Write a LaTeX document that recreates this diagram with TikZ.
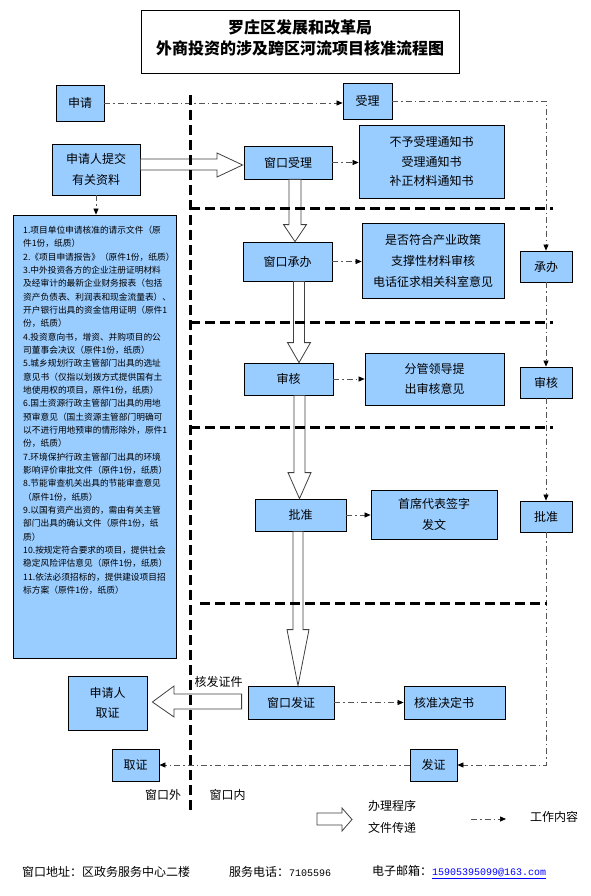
\documentclass[tikz,border=0pt]{standalone}
\usepackage{fontspec}
\setmainfont{Noto Sans CJK SC}
\newfontfamily\monof{Liberation Mono}
\usetikzlibrary{arrows.meta,calc}
\definecolor{boxblue}{RGB}{153,204,255}
\definecolor{ddgray}{RGB}{85,85,85}
\newcommand\vhol[6]{%
 \draw[hol] let \p1=(#2.south), \p2=(#3.north) in
  (#1pt-#4pt,\y1) -- (#1pt-#4pt,\y2+#6pt) -- (#1pt-#5pt,\y2+#6pt) -- (#1pt,\y2) -- (#1pt+#5pt,\y2+#6pt) -- (#1pt+#4pt,\y2+#6pt) -- (#1pt+#4pt,\y1) -- cycle;}
\begin{document}
\begin{tikzpicture}[x=1pt,y=-1pt,
  box/.style={draw=black, fill=boxblue, line width=0.8pt, inner sep=0pt, font=\fontsize{12pt}{14pt}\selectfont, align=center},
  dd/.style={draw=ddgray, line width=0.7pt, dash pattern=on 6pt off 3pt on 1.5pt off 3pt, -{Triangle[length=6pt,width=5pt,color=black]}},
  thickdash/.style={line width=3pt, dash pattern=on 10pt off 5pt},
  hol/.style={draw=black!75, fill=white, line width=0.8pt, line join=miter},
  lab/.style={inner sep=0pt, font=\fontsize{12pt}{14pt}\selectfont}
]
\useasboundingbox (0,0) rectangle (590,896);
\fill[white] (0,0) rectangle (590,896);

% title
\node[draw, line width=0.8pt, minimum width=318pt, minimum height=63pt, inner sep=0pt] (title) at (300,41.5) {};
\node[inner sep=0pt, align=center, font=\fontsize{16pt}{21pt}\selectfont\bfseries] (titletext) at (300,37.5) {罗庄区发展和改革局\\外商投资的涉及跨区河流项目核准流程图};

% nodes
\node[box, minimum width=48pt, minimum height=36pt] (sq) at (80,103) {申请};
\node[box, minimum width=49pt, minimum height=36pt] (sl) at (367.5,101) {受理};
\node[box, minimum width=88pt, minimum height=51pt, font=\fontsize{12pt}{21pt}\selectfont] (tj) at (96,169.5) {申请人提交\\有关资料};
\node[box, minimum width=88pt, minimum height=33pt] (cksl) at (288,162.5) {窗口受理};
\node[box, minimum width=145pt, minimum height=73pt, font=\fontsize{12pt}{19.5pt}\selectfont] (by) at (431.5,161.5) {不予受理通知书\\受理通知书\\补正材料通知书};
\node[box, minimum width=163pt, minimum height=443pt] (docs) at (94.5,436.5) {};
\node[anchor=north west, inner sep=0pt, align=left, font=\fontsize{8.7pt}{13.33pt}\selectfont] (docstext) at (23,226) {%
1.项目单位申请核准的请示文件（原\\
件1份，纸质）\\
2.《项目申请报告》（原件1份，纸质）\\
3.中外投资各方的企业注册证明材料\\
及经审计的最新企业财务报表（包括\\
资产负债表、利润表和现金流量表）、\\
开户银行出具的资金信用证明（原件1\\
份，纸质）\\
4.投资意向书，增资、并购项目的公\\
司董事会决议（原件1份，纸质）\\
5.城乡规划行政主管部门出具的选址\\
意见书（仅指以划拨方式提供国有土\\
地使用权的项目，原件1份，纸质）\\
6.国土资源行政主管部门出具的用地\\
预审意见（国土资源主管部门明确可\\
以不进行用地预审的情形除外，原件1\\
份，纸质）\\
7.环境保护行政主管部门出具的环境\\
影响评价审批文件（原件1份，纸质）\\
8.节能审查机关出具的节能审查意见\\
（原件1份，纸质）\\
9.以国有资产出资的，需由有关主管\\
部门出具的确认文件（原件1份，纸\\
质）\\
10.按规定符合要求的项目，提供社会\\
稳定风险评估意见（原件1份，纸质）\\
11.依法必须招标的，提供建设项目招\\
标方案（原件1份，纸质）};
\node[box, minimum width=89pt, minimum height=39pt] (ckcb) at (287.5,261.5) {窗口承办};
\node[box, minimum width=142pt, minimum height=75pt, font=\fontsize{12pt}{21pt}\selectfont] (sf) at (433,260.5) {是否符合产业政策\\支撑性材料审核\\电话征求相关科室意见};
\node[box, minimum width=52pt, minimum height=31pt] (cb) at (546,266.5) {承办};
\node[box, minimum width=89pt, minimum height=32pt] (sh) at (288.5,379) {审核};
\node[box, minimum width=139pt, minimum height=52pt, font=\fontsize{12pt}{20pt}\selectfont] (fg) at (434.5,379) {分管领导提\\出审核意见};
\node[box, minimum width=52pt, minimum height=31pt] (sh2) at (546,382.5) {审核};
\node[box, minimum width=91pt, minimum height=32pt] (pz) at (300.5,515) {批准};
\node[box, minimum width=126pt, minimum height=49pt, font=\fontsize{12pt}{21pt}\selectfont] (sx) at (434,514.5) {首席代表签字\\发文};
\node[box, minimum width=52pt, minimum height=31pt] (pz2) at (546,516.5) {批准};
\node[box, minimum width=86pt, minimum height=33pt] (ckfz) at (291,702.5) {窗口发证};
\node[box, minimum width=101pt, minimum height=33pt, text width=81pt, align=left] (hz) at (454.5,702.5) {核准决定书};
\node[box, minimum width=79pt, minimum height=54pt, font=\fontsize{12pt}{20pt}\selectfont] (sqrqz) at (107.5,703) {申请人\\取证};
\node[box, minimum width=47pt, minimum height=32pt] (qz) at (135.5,765) {取证};
\node[box, minimum width=47pt, minimum height=32pt] (fz) at (433.5,765) {发证};

% hollow procedure arrows
\vhol{295}{cksl}{ckcb}{6}{11.5}{17}
\vhol{299}{ckcb}{sh}{5.5}{11.5}{20}
\vhol{299.5}{sh}{pz}{5.5}{11.5}{26}
\vhol{298}{pz}{ckfz}{5}{11}{56}
\draw[hol] ($(tj.east)+(0,-10.5)$) -- (217,159) -- (217,153) -- ($(cksl.west)+(-1,2.5)$) -- (217,177) -- (217,170) -- ($(tj.east)+(0,0.5)$) -- cycle;
\draw[hol] ($(ckfz.west)+(-6,-8.5)$) -- (174,694) -- (174,686) -- ($(sqrqz.east)+(5,-1)$) -- (174,717) -- (174,709) -- ($(ckfz.west)+(-6,6.5)$) -- cycle;
\node[lab] (hfzj) at (218.5,682) {核发证件};

% work-content connectors
\draw[dd] (sq.east) -- (sq.east -| sl.west);
\draw[dd] (sl.east) -| (cb.north);
\draw[dd] (cb.south) -- (sh2.north);
\draw[dd] (sh2.south) -- (pz2.north);
\draw[dd] (pz2.south) |- (fz.east);
\draw[dd] (fz.west) -- (qz.east);
\draw[dd] (cksl.east) -- (cksl.east -| by.west);
\draw[dd] (ckcb.east) -- (ckcb.east -| sf.west);
\draw[dd] (sh.east) -- (sh.east -| fg.west);
\draw[dd] (pz.east) -- (pz.east -| sx.west);
\draw[dd] (ckfz.east) -- (hz.west);
\draw[dd] (tj.south) -- (tj.south |- docs.north);

% swimlane separators
\draw[thickdash] (190,95) -- (190,812);
\draw[thickdash] (190,208) -- (553,208);
\draw[thickdash] (190,322) -- (553,322);
\draw[thickdash] (190,427) -- (553,427);
\draw[thickdash] (200,603) -- (547,603);

\node[lab] (ckw) at (163,795) {窗口外};
\node[lab] (ckn) at (227.5,795) {窗口内};

% legend
\draw[hol] (317,813) -- (342,813) -- (342,808) -- (352,819.5) -- (342,831) -- (342,825) -- (317,825) -- cycle;
\node[lab, anchor=west] (lg1) at (368,806) {办理程序};
\node[lab, anchor=west] (lg2) at (368,828) {文件传递};
\coordinate (lgA) at (471,819);
\coordinate (lgB) at (506,819);
\draw[dd] (lgA) -- (lgB);
\node[lab, anchor=west] (lg3) at (530,817) {工作内容};

% footer
\node[lab, anchor=west] (ft1) at (22,872) {窗口地址：区政务服务中心二楼};
\node[lab, anchor=west] (ft2) at (229,872) {服务电话：{\monof\fontsize{10pt}{12pt}\selectfont 7105596}};
\node[lab, anchor=west] (ft3) at (372,872) {电子邮箱：{\monof\fontsize{10pt}{12pt}\selectfont\color{blue}\underline{15905395099@163.com}}};
\end{tikzpicture}
\end{document}
